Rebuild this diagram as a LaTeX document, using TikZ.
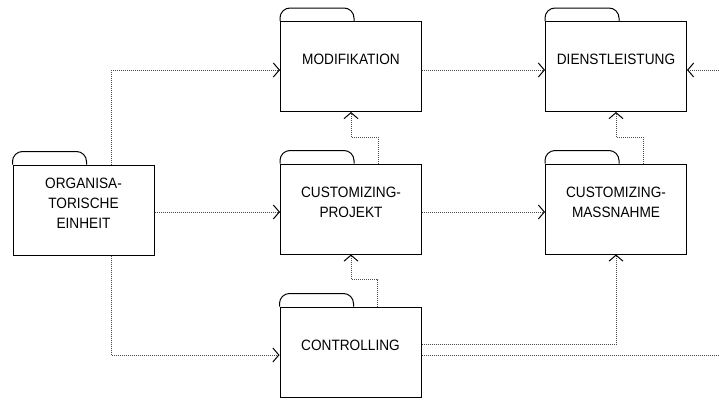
\documentclass[tikz,border=0pt]{standalone}
\usepackage{fontspec}
\setmainfont{Liberation Sans}[FakeStretch=0.91]
\usetikzlibrary{arrows.meta,calc,positioning}
\tikzset{>=latex}

\begin{document}
\begin{tikzpicture}[x=1pt,y=-1pt,
		obj/.style={draw, line width=1pt, rectangle, minimum width=141pt, minimum height=90pt, inner sep=0pt},
		tab/.style={draw, line width=1pt},
		flow/.style={black!70, line width=1pt, dash pattern=on 1pt off 1pt, -{Straight Barb[length=6pt,width=14pt,black,line width=1pt]}},
		objtext/.style={align=center, font=\fontsize{15}{20}\selectfont, yshift=7pt}]
		\useasboundingbox (0,0) rectangle (719,399);
		\clip (0,0) rectangle (719,399);
		\node[obj, label={[objtext]center:ORGANISA-\\TORISCHE\\EINHEIT}] (org) at (83.5,210) {};
		\node[obj, label={[objtext]center:MODIFIKATION}] (mod) at (351,66.5) {};
		\node[obj, label={[objtext]center:DIENSTLEISTUNG}] (dienst) at (616,66.5) {};
		\node[obj, label={[objtext]center:CUSTOMIZING-\\PROJEKT}] (cproj) at (351,209) {};
		\node[obj, label={[objtext]center:CUSTOMIZING-\\MASSNAHME}] (cmass) at (616,209) {};
		\node[obj, label={[objtext]center:CONTROLLING}] (ctrl) at (350.5,352) {};
		\foreach \n in {org,mod,dienst,cproj,cmass,ctrl}
			\draw[tab] (\n.north west) -- ++(0,-3) arc[start angle=180, end angle=270, radius=10]
				-- ++(54,0) arc[start angle=270, end angle=360, radius=10] -- ++(0,3);
		\draw[flow] ([xshift=27.5pt]org.north) |- ([yshift=-3.5pt]mod.west);
		\draw[flow] ([yshift=-2pt]org.east) -- ([yshift=-2pt]org.east -| cproj.west);
		\draw[flow] ([xshift=27.5pt]org.south) |- ([yshift=-3pt]ctrl.west);
		\draw[flow] ([yshift=-3.5pt]mod.east) -- ([yshift=-3.5pt]dienst.west);
		\draw[flow] ([yshift=-3pt]cproj.east) -- ([yshift=-3pt]cmass.west);
		\draw[flow] ([xshift=27pt]cproj.north) -- ++(0,-26.5) -| (mod.south);
		\draw[flow] ([xshift=27pt]cmass.north) -- ++(0,-26.5) -| (dienst.south);
		\draw[flow] ([xshift=27pt]ctrl.north) -- ++(0,-27) -| (cproj.south);
		\draw[flow] ([yshift=8pt]ctrl.east) -| (cmass.south);
		\draw[flow] ([yshift=-3pt]ctrl.east) -- ++(320,0) |- ([yshift=-3.5pt]dienst.east);
	\end{tikzpicture}
\end{document}
